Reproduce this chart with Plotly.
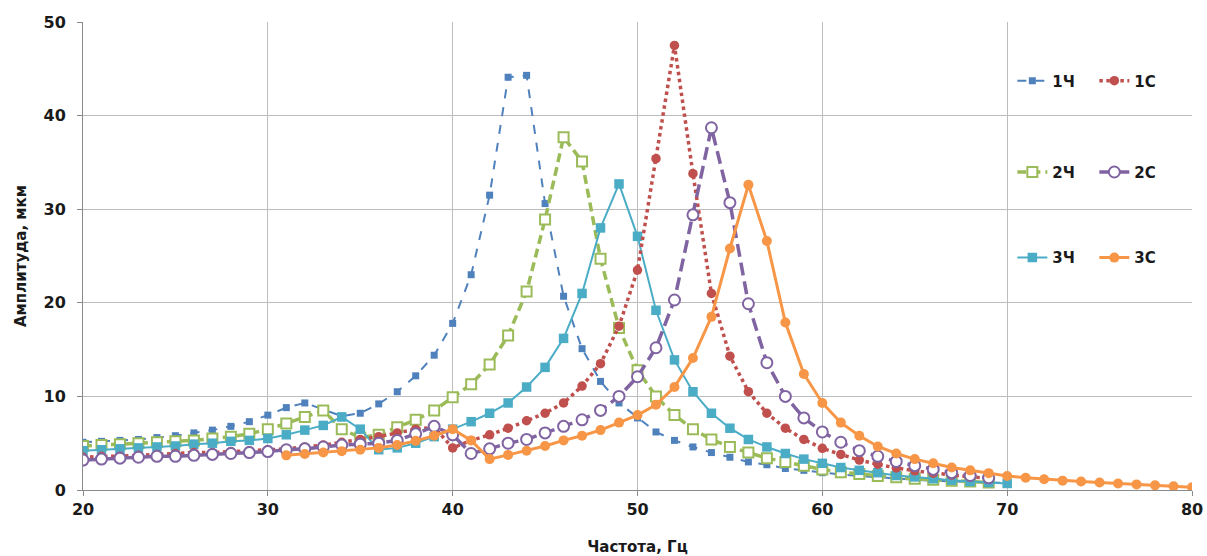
import plotly.graph_objects as go

# ---- data ----
x_1ch = list(range(20, 71))
y_1ch = [5.1, 5.2, 5.3, 5.4, 5.6, 5.8, 6.1, 6.4, 6.8, 7.3, 8.0,
         8.8, 9.3, 8.6, 7.9, 8.2, 9.2, 10.5, 12.2, 14.4, 17.8,
         23.0, 31.5, 44.1, 44.3, 30.6, 20.7, 15.1, 11.6, 9.3, 7.7,
         6.2, 5.3, 4.6, 4.0, 3.5, 3.0, 2.7, 2.3, 2.1, 1.85,
         1.65, 1.5, 1.35, 1.2, 1.1, 1.0, 0.9, 0.85, 0.8, 0.75]

x_1c = list(range(20, 70))
y_1c = [3.5, 3.6, 3.6, 3.7, 3.8, 3.9, 4.0, 4.0, 4.1, 4.2, 4.3,
        4.4, 4.6, 4.8, 5.1, 5.4, 5.7, 6.1, 6.5, 6.7, 4.5,
        5.3, 5.9, 6.6, 7.4, 8.2, 9.3, 11.1, 13.5, 17.5, 23.5,
        35.4, 47.5, 33.8, 21.0, 14.3, 10.5, 8.2, 6.6, 5.4, 4.45,
        3.8, 3.2, 2.75, 2.35, 2.05, 1.8, 1.6, 1.4, 1.25]

x_2ch = list(range(20, 70))
y_2ch = [4.7, 4.8, 4.9, 5.0, 5.1, 5.2, 5.3, 5.5, 5.7, 6.0, 6.5,
         7.1, 7.8, 8.5, 6.5, 5.6, 5.9, 6.7, 7.5, 8.5, 9.9,
         11.3, 13.4, 16.5, 21.2, 28.9, 37.7, 35.1, 24.7, 17.3, 12.8,
         10.0, 8.0, 6.5, 5.4, 4.6, 4.0, 3.4, 3.0, 2.6, 2.2,
         1.9, 1.7, 1.5, 1.35, 1.2, 1.1, 1.0, 0.9, 0.8]

x_2c = list(range(20, 70))
y_2c = [3.2, 3.3, 3.4, 3.5, 3.6, 3.6, 3.7, 3.8, 3.9, 4.0, 4.1,
        4.3, 4.4, 4.6, 4.8, 4.9, 5.0, 5.3, 6.0, 6.8, 5.9,
        3.9, 4.4, 5.0, 5.4, 6.1, 6.8, 7.5, 8.5, 10.0, 12.1,
        15.2, 20.3, 29.4, 38.7, 30.7, 19.9, 13.6, 10.0, 7.7, 6.2,
        5.1, 4.2, 3.6, 3.05, 2.6, 2.2, 1.85, 1.55, 1.3]

x_3ch = list(range(20, 71))
y_3ch = [4.2, 4.3, 4.4, 4.5, 4.6, 4.7, 4.9, 5.0, 5.2, 5.3, 5.5,
         5.9, 6.4, 6.9, 7.8, 6.5, 4.3, 4.5, 5.0, 5.7, 6.5,
         7.3, 8.2, 9.3, 11.0, 13.1, 16.2, 21.0, 28.0, 32.7, 27.1,
         19.2, 13.9, 10.5, 8.2, 6.6, 5.4, 4.6, 3.9, 3.3, 2.85,
         2.4, 2.1, 1.85, 1.55, 1.4, 1.2, 1.05, 0.9, 0.8, 0.7]

x_3c = list(range(31, 81))
y_3c = [3.7, 3.85, 4.0, 4.15, 4.3, 4.5, 4.8, 5.25, 5.8, 6.5,
        5.3, 3.3, 3.75, 4.2, 4.7, 5.3, 5.8, 6.4, 7.2, 8.0,
        9.1, 11.0, 14.1, 18.5, 25.8, 32.6, 26.6, 17.9, 12.4, 9.3,
        7.2, 5.8, 4.65, 3.9, 3.3, 2.85, 2.4, 2.1, 1.8, 1.5,
        1.3, 1.15, 1.0, 0.9, 0.8, 0.7, 0.6, 0.5, 0.4, 0.3]

x_ticks = [20, 30, 40, 50, 60, 70, 80]
y_ticks = [0, 10, 20, 30, 40, 50]

C_BLUE = "#4F81BD"
C_RED = "#C0504D"
C_GREEN = "#9BBB59"
C_PURPLE = "#8064A2"
C_CYAN = "#4BACC6"
C_ORANGE = "#F79646"

fig = go.Figure()

fig.add_trace(go.Scatter(
    x=x_1ch, y=y_1ch, name="1Ч", mode="lines+markers", legend="legend",
    line=dict(color=C_BLUE, width=2, dash="dash"),
    marker=dict(symbol="square", size=7, color=C_BLUE)))

fig.add_trace(go.Scatter(
    x=x_2ch, y=y_2ch, name="2Ч", mode="lines+markers", legend="legend2",
    line=dict(color=C_GREEN, width=3.5, dash="9px,5px"),
    marker=dict(symbol="square", size=10, color="white",
                line=dict(color=C_GREEN, width=2))))

fig.add_trace(go.Scatter(
    x=x_3ch, y=y_3ch, name="3Ч", mode="lines+markers", legend="legend3",
    line=dict(color=C_CYAN, width=2),
    marker=dict(symbol="square", size=9.5, color=C_CYAN)))

fig.add_trace(go.Scatter(
    x=x_1c, y=y_1c, name="1С", mode="lines+markers", legend="legend",
    line=dict(color=C_RED, width=3.5, dash="dot"),
    marker=dict(symbol="circle", size=9.5, color=C_RED)))

fig.add_trace(go.Scatter(
    x=x_2c, y=y_2c, name="2С", mode="lines+markers", legend="legend2",
    line=dict(color=C_PURPLE, width=3.5, dash="13px,6px"),
    marker=dict(symbol="circle", size=11, color="white",
                line=dict(color=C_PURPLE, width=2))))

fig.add_trace(go.Scatter(
    x=x_3c, y=y_3c, name="3С", mode="lines+markers", legend="legend3",
    line=dict(color=C_ORANGE, width=3),
    marker=dict(symbol="circle", size=10, color=C_ORANGE)))

FONT = "DejaVu Sans"
tick_font = dict(family=FONT, size=16, color="#1a1a1a", weight="bold")
title_font = dict(family=FONT, size=15, color="#1a1a1a", weight="bold")
leg_common = dict(orientation="h", x=0.838, xanchor="left", yanchor="middle",
                  bgcolor="rgba(0,0,0,0)",
                  font=dict(family=FONT, size=15, color="#1a1a1a", weight="bold"),
                  entrywidth=37, itemwidth=30)

fig.update_layout(
    width=1207, height=556,
    margin=dict(l=83, r=15, t=22, b=66, autoexpand=False),
    paper_bgcolor="white", plot_bgcolor="white",
    showlegend=True,
    legend=dict(y=0.874, **leg_common),
    legend2=dict(y=0.679, **leg_common),
    legend3=dict(y=0.496, **leg_common),
    xaxis=dict(range=[20, 80], tickvals=x_ticks, showgrid=True,
               gridcolor="#bdbdbd", gridwidth=1, showline=True,
               linecolor="#8a8a8a", linewidth=1, ticks="outside",
               ticklen=5, tickcolor="#8a8a8a", tickfont=tick_font,
               zeroline=False, mirror=False,
               title=dict(text="Частота, Гц", font=title_font, standoff=24)),
    yaxis=dict(range=[0, 50], tickvals=y_ticks, showgrid=True,
               gridcolor="#bdbdbd", gridwidth=1, showline=True,
               linecolor="#8a8a8a", linewidth=1, ticks="outside",
               ticklen=5, tickcolor="#8a8a8a", tickfont=tick_font,
               ticklabelstandoff=8, zeroline=False,
               title=dict(text="Амплитуда, мкм", font=title_font, standoff=13)),
)

fig.write_html("out.html")
